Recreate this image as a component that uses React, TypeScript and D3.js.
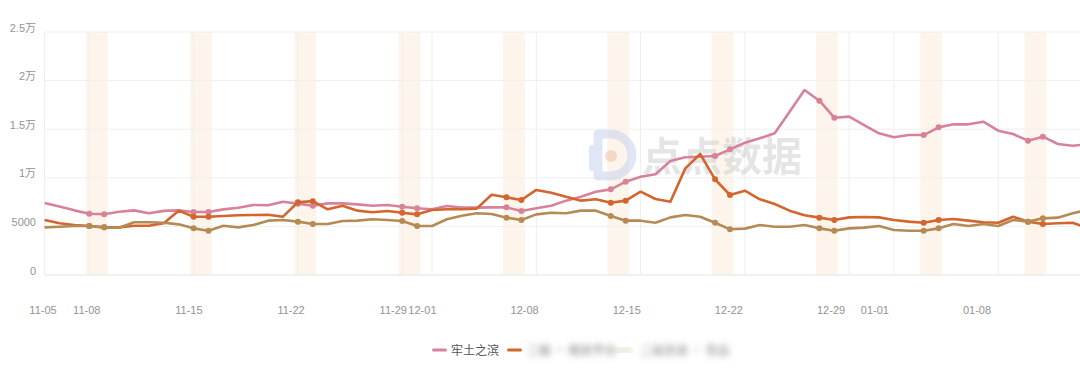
import React from "react";
import * as d3 from "d3";

const W = 1080;
const H = 379;

// categories: 2025-11-05 .. 2026-01-14 (last one clipped at right edge)
const dates: Date[] = d3.timeDay.range(new Date(2025, 10, 5), new Date(2026, 0, 15));
const fmt = d3.timeFormat("%m-%d");

const tickLabels = ["11-05", "11-08", "11-15", "11-22", "11-29", "12-01", "12-08", "12-15", "12-22", "12-29", "01-01", "01-08"];
const yTicks = [0, 5000, 10000, 15000, 20000, 25000];
const yTickLabels = ["0", "5000", "1万", "1.5万", "2万", "2.5万"];

const seriesNames = ["牢土之滨", "二级 · 相关平台", "二级目录 · 竞品"];
const seriesColors = ["#d8829a", "#d3652f", "#b48b55"];

const pinkValues = [
  7400, 7050, 6650, 6300, 6250, 6500, 6650, 6350, 6600, 6650,
  6480, 6480, 6750, 6920, 7200, 7170, 7540, 7340, 7130, 7370,
  7370, 7270, 7130, 7200, 7030, 6860, 6760, 7100, 6930, 6930,
  6960, 6960, 6580, 6860, 7130, 7650, 8060, 8570, 8810, 9600,
  10110, 10360, 11730, 12110, 12170, 12240, 12930, 13610, 14060, 14580,
  16800, 19030, 17930, 16180, 16290, 15430, 14580, 14170, 14400, 14400,
  15190, 15500, 15500, 15770, 14850, 14500, 13820, 14230, 13480, 13300,
  13450,
];
const orangeValues = [
  5660, 5320, 5140, 5040, 4900, 4900, 5070, 5070, 5320, 6620,
  6000, 6000, 6070, 6140, 6170, 6200, 6000, 7480, 7600, 6760,
  7130, 6620, 6450, 6580, 6410, 6240, 6690, 6760, 6760, 6830,
  8260, 7990, 7720, 8750, 8470, 8060, 7650, 7790, 7440, 7650,
  8570, 7820, 7540, 10970, 12450, 9840, 8230, 8670, 7790, 7300,
  6620, 6150, 5900, 5660, 5930, 5970, 5930, 5660, 5490, 5380,
  5660, 5760, 5590, 5420, 5380, 6000, 5490, 5250, 5320, 5380,
  4800,
];
const tanValues = [
  4900, 4970, 5040, 5040, 4900, 4870, 5420, 5420, 5380, 5210,
  4800, 4560, 5070, 4900, 5140, 5590, 5660, 5490, 5250, 5250,
  5560, 5590, 5730, 5660, 5560, 5040, 5040, 5730, 6100, 6350,
  6280, 5900, 5660, 6240, 6410, 6350, 6620, 6620, 6070, 5590,
  5590, 5380, 5930, 6170, 6000, 5380, 4700, 4770, 5140, 4970,
  4970, 5140, 4800, 4560, 4800, 4870, 5040, 4630, 4560, 4560,
  4800, 5250, 5040, 5250, 5040, 5660, 5490, 5830, 5900, 6350,
  6700,
];
const allSeries = [pinkValues, orangeValues, tanValues];

const FONT = "'Liberation Sans', 'Noto Sans CJK SC', sans-serif";

export default function App() {
  const n = dates.length;
  const x = d3.scaleLinear().domain([0, n - 1]).range([44.6, 1087.6]);
  // label placement as seen in the reference (labels drift slightly from ticks)
  const xLabel = d3.scaleLinear().domain([0, 64]).range([43, 977]);
  const y = d3.scaleLinear().domain([0, 25000]).range([275, 32]);

  const labels = dates.map(fmt);
  const tickIdx = tickLabels.map((t) => labels.indexOf(t));
  const weekendStarts = dates
    .map((d, i) => ({ d, i }))
    .filter(({ d, i }) => d.getDay() === 6 && i + 1 < n)
    .map(({ i }) => i);
  const markerIdx = dates.map((d, i) => i).filter((i) => dates[i].getDay() === 6 || dates[i].getDay() === 0);

  const line = d3
    .line<number>()
    .x((_, i) => x(i))
    .y((v) => y(v));

  return (
    <svg
      width={W}
      height={H}
      style={{ position: "absolute", left: 0, top: 0, background: "#fff", fontFamily: FONT }}
    >
      <defs>
        <filter id="blur" x="-20%" y="-50%" width="140%" height="200%">
          <feGaussianBlur stdDeviation="3" />
        </filter>
        <clipPath id="plot">
          <rect x={0} y={0} width={W} height={H} />
        </clipPath>
      </defs>
      <rect x={0} y={0} width={W} height={H} fill="#fff" />
      {/* weekend bands */}
      {weekendStarts.map((i) => (
        <rect
          key={"b" + i}
          x={x(i) - 3.5}
          y={y(25000)}
          width={x(i + 1) - x(i) + 7}
          height={y(0) - y(25000)}
          fill="#fcf2e6"
          opacity={0.8}
        />
      ))}
      {/* horizontal grid */}
      {yTicks.map((t) => (
        <line key={"h" + t} x1={x(0)} x2={W} y1={y(t)} y2={y(t)} stroke={t === 0 ? "#e3e3e3" : "#efefef"} strokeWidth={1} />
      ))}
      {/* vertical grid */}
      {tickIdx.map((i) => (
        <line key={"v" + i} x1={x(i)} x2={x(i)} y1={y(25000)} y2={y(0)} stroke="#eeeeee" strokeWidth={1} />
      ))}
      {/* watermark */}
      <g opacity={0.5}>
        <path
          d="M598,134 h12 a22,21 0 0 1 0,42 h-12 z"
          fill="none"
          stroke="#c4cff0"
          strokeWidth={9}
          strokeLinejoin="round"
        />
        <circle cx={611} cy={156} r={6} fill="#f2b9a3" />
        <rect x={589} y={145} width={6} height={26} rx={3} fill="#c4cff0" />
        <text x={642} y={171} fontSize={40} fontWeight={700} fill="#cccccc" fontFamily="'Noto Sans CJK SC', sans-serif">
          点点数据
        </text>
      </g>
      {/* y labels */}
      {yTicks.map((t, k) => (
        <text key={"yl" + t} x={36} y={y(t)} dy={-0.5} textAnchor="end" fontSize={11} fill="#939393">
          {yTickLabels[k]}
        </text>
      ))}
      {/* x labels */}
      {tickIdx.map((i, k) => (
        <text key={"xl" + i} x={xLabel(i)} y={314} textAnchor="middle" fontSize={11} fill="#939393">
          {tickLabels[k]}
        </text>
      ))}
      {/* lines */}
      <g clipPath="url(#plot)">
        {allSeries.map((vals, s) => (
          <g key={"s" + s}>
            <path d={line(vals) || ""} fill="none" stroke={seriesColors[s]} strokeWidth={2.6} strokeLinejoin="round" />
            {markerIdx.map((i) => (
              <circle key={i} cx={x(i)} cy={y(vals[i])} r={3} fill={seriesColors[s]} />
            ))}
          </g>
        ))}
      </g>
      {/* legend */}
      <g fontSize={12}>
        <rect x={432} y={348.5} width={15} height={3} rx={1.5} fill={seriesColors[0]} />
        <text x={451} y={354.5} fill="#555" fontFamily="'Noto Sans CJK SC', sans-serif">
          {seriesNames[0]}
        </text>
        <rect x={507} y={348.5} width={15} height={3} rx={1.5} fill={seriesColors[1]} />
        <text x={527} y={354.5} fill="#777" filter="url(#blur)" fontFamily="'Noto Sans CJK SC', sans-serif">
          {seriesNames[1]}
        </text>
        <rect x={617} y={348.5} width={15} height={3} rx={1.5} fill={seriesColors[2]} opacity={0.5} filter="url(#blur)" />
        <text x={640} y={354.5} fill="#888" filter="url(#blur)" fontFamily="'Noto Sans CJK SC', sans-serif">
          {seriesNames[2]}
        </text>
      </g>
    </svg>
  );
}
